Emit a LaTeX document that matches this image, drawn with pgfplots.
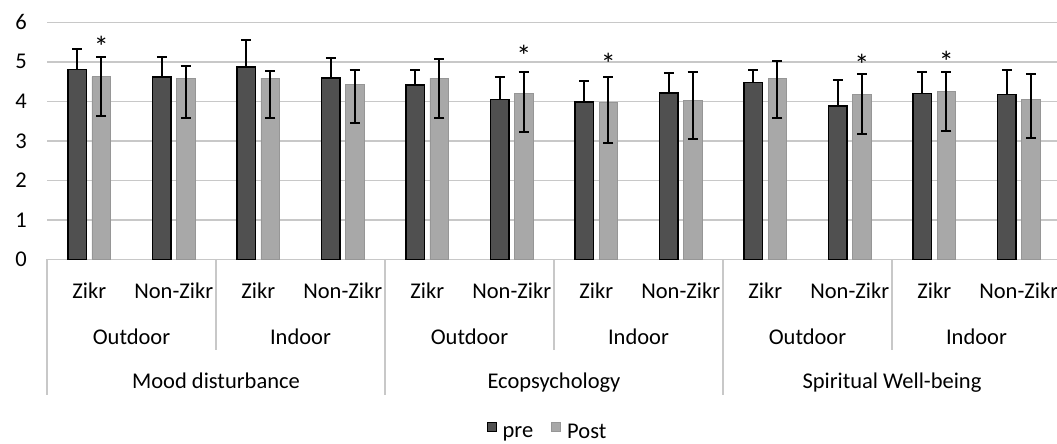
\documentclass[border=0pt]{standalone}
\usepackage{pgfplots}
\pgfplotsset{compat=1.18}
\usepackage{pgfplotstable}
\usepackage{fontspec}
\setmainfont{Carlito}
\definecolor{preC}{RGB}{80,80,80}
\definecolor{postC}{RGB}{168,168,168}
\definecolor{postE}{RGB}{150,150,150}
\definecolor{gridC}{RGB}{200,200,200}

\pgfplotstableread{
x pre preep post postep postem
0 4.81 0.52 4.62 0.51 0.99
1 4.62 0.51 4.59 0.30 1.00
2 4.87 0.68 4.59 0.18 1.00
3 4.59 0.51 4.43 0.36 0.99
4 4.42 0.37 4.58 0.49 0.99
5 4.05 0.56 4.21 0.52 0.99
6 3.99 0.52 3.96 0.65 1.01
7 4.21 0.50 4.02 0.71 0.98
8 4.48 0.32 4.58 0.43 0.99
9 3.88 0.66 4.18 0.52 1.01
10 4.20 0.53 4.24 0.49 0.99
11 4.17 0.62 4.04 0.65 0.98
}\datatable

\pgfplotstableread{
x y
0.142 5.49
5.142 5.28
6.142 5.06
9.142 5.04
10.142 5.13
}\startable

\begin{document}
\begin{tikzpicture}[font=\fontsize{22.5bp}{27bp}\selectfont]
\path[use as bounding box] (0,0) rectangle (1057bp,-444bp);
\begin{axis}[
  at={(47bp,-259.3bp)}, anchor=south west,
  scale only axis, width=1014bp, height=237bp,
  xmin=-0.5, xmax=11.5, ymin=0, ymax=6,
  clip=false,
  axis x line*=bottom, axis y line*=left,
  x axis line style={draw=gridC, line width=1.5bp, -},
  y axis line style={draw=none},
  ytick={0,1,2,3,4,5,6},
  xtick={0,1,2,3,4,5,6,7,8,9,10,11},
  xticklabels={Zikr,Non-Zikr,Zikr,Non-Zikr,Zikr,Non-Zikr,Zikr,Non-Zikr,Zikr,Non-Zikr,Zikr,Non-Zikr},
  major tick length=0pt,
  tick style={draw=none},
  ymajorgrids, grid style={gridC, line width=1.5bp},
  xticklabel style={anchor=base, inner sep=0pt, yshift=-39bp},
  yticklabel style={anchor=east, inner sep=0pt, xshift=-20bp},
  /pgf/number format/assume math mode=true,
  legend style={at={(0.4936,-0.7287)}, anchor=center, draw=none, fill=none,
    legend columns=2,
    /tikz/every even column/.append style={column sep=16bp},
    /tikz/every odd column/.append style={column sep=4bp},
    font=\fontsize{22.5bp}{27bp}\selectfont},
  legend image code/.code={\draw[#1, line width=1bp] (0bp,1.5bp) rectangle (9bp,10.5bp);},
  error bars/error bar style={black, line width=2bp},
  error bars/error mark options={black, line width=2bp, mark size=5bp, rotate=90},
]
\addplot[ybar, bar width=18.5bp, bar shift=0pt, fill=preC, draw=black, line width=1.6bp,
  error bars/.cd, y dir=plus, y explicit]
  table[x expr=\thisrow{x}-0.142, y=pre, y error plus=preep] {\datatable};
\addlegendentry{pre}
\addplot[ybar, bar width=18.5bp, bar shift=0pt, fill=postC, draw=postE, line width=0.8bp,
  error bars/.cd, y dir=both, y explicit]
  table[x expr=\thisrow{x}+0.142, y=post, y error plus=postep, y error minus=postem] {\datatable};
\addlegendentry{Post}
\addplot[draw=none, mark=none, forget plot, nodes near coords={*},
  every node near coord/.append style={anchor=base, inner sep=0pt, yshift=-15.5bp, black,
    font=\fontsize{30bp}{34bp}\selectfont}]
  table[x=x, y=y] {\startable};

% category separators
\draw[gridC, line width=1.5bp] (axis cs:-0.5,0) -- ++(0bp,-136bp);
\draw[gridC, line width=1.5bp] (axis cs:3.5,0) -- ++(0bp,-136bp);
\draw[gridC, line width=1.5bp] (axis cs:7.5,0) -- ++(0bp,-136bp);
\draw[gridC, line width=1.5bp] (axis cs:11.5,0) -- ++(0bp,-136bp);
\draw[gridC, line width=1.5bp] (axis cs:1.5,0) -- ++(0bp,-91bp);
\draw[gridC, line width=1.5bp] (axis cs:5.5,0) -- ++(0bp,-91bp);
\draw[gridC, line width=1.5bp] (axis cs:9.5,0) -- ++(0bp,-91bp);

\node[anchor=base, yshift=-85bp] at (axis cs:0.5,0) {Outdoor};
\node[anchor=base, yshift=-85bp] at (axis cs:2.5,0) {Indoor};
\node[anchor=base, yshift=-85bp] at (axis cs:4.5,0) {Outdoor};
\node[anchor=base, yshift=-85bp] at (axis cs:6.5,0) {Indoor};
\node[anchor=base, yshift=-85bp] at (axis cs:8.5,0) {Outdoor};
\node[anchor=base, yshift=-85bp] at (axis cs:10.5,0) {Indoor};

\node[anchor=base, yshift=-129bp] at (axis cs:1.5,0) {Mood disturbance};
\node[anchor=base, yshift=-129bp] at (axis cs:5.5,0) {Ecopsychology};
\node[anchor=base, yshift=-129bp] at (axis cs:9.5,0) {Spiritual Well-being};
\end{axis}
\end{tikzpicture}
\end{document}
